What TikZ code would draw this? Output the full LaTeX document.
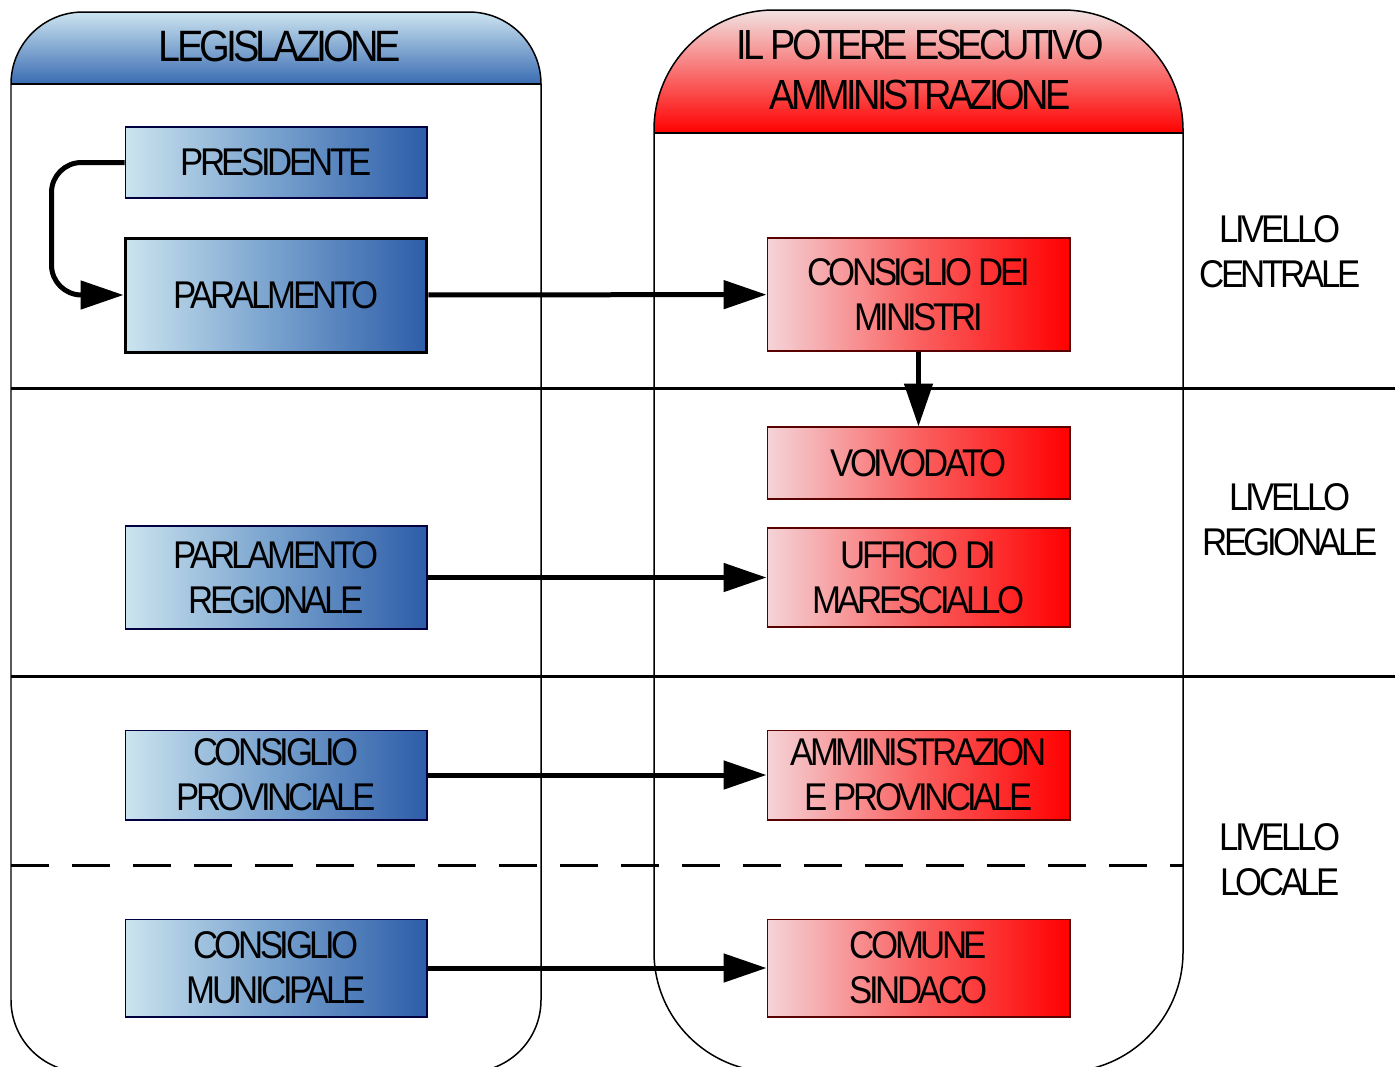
\documentclass[tikz,border=0pt]{standalone}
\usepackage{fontspec}
\newfontfamily\dfont[FakeStretch=0.9,LetterSpace=-9]{Liberation Sans}
\usetikzlibrary{arrows.meta}
\definecolor{bluelight}{RGB}{203,228,239}
\definecolor{bluemid}{RGB}{118,160,205}
\definecolor{bluedark}{RGB}{45,93,168}
\definecolor{redlight}{RGB}{244,212,216}
\definecolor{redmid}{RGB}{250,96,96}
\definecolor{reddark}{RGB}{255,0,0}
\definecolor{hbluetop}{RGB}{204,228,240}
\definecolor{hbluebot}{RGB}{58,108,178}
\definecolor{hredtop}{RGB}{242,226,226}
\definecolor{hredbot}{RGB}{255,0,0}

\begin{document}
\begin{tikzpicture}[x=0.02cm, y=-0.02cm, every node/.style={font=\dfont\fontsize{22}{25.5}\selectfont, align=center}, bluebox/.style={rectangle, draw=blue!25!black, line width=0.6pt, minimum width=6.04cm, left color=bluelight, right color=bluedark, middle color=bluemid}, redbox/.style={rectangle, draw=red!35!black, line width=0.6pt, minimum width=6.06cm, left color=redlight, right color=reddark, middle color=redmid}, arr/.style={line width=0.1cm, -{Triangle[length=0.86cm, width=0.56cm]}}, sep/.style={line width=0.06cm}, frame/.style={line width=0.03cm}]

        \useasboundingbox (0,0) rectangle (1395,1066);
        \clip (0,0) rectangle (1395,1066);

        \begin{scope}
        \clip[rounded corners=1.44cm] (11,12) rectangle (541,1072);
        \shade[top color=hbluetop, bottom color=hbluebot] (11,12) rectangle (541,84);
        \end{scope}
        \begin{scope}
        \clip[rounded corners=2.4cm] (654,10) rectangle (1183,1072);
        \shade[top color=hredtop, bottom color=hredbot] (654,10) rectangle (1183,133);
        \end{scope}
        \draw[frame, rounded corners=1.44cm] (11,12) rectangle (541,1072);
        \draw[frame, rounded corners=2.4cm] (654,10) rectangle (1183,1072);
        \draw[frame] (11,84) -- (541,84);
        \draw[frame] (654,133) -- (1183,133);

        \draw[sep] (11,388) -- (1395,388);
        \draw[sep] (11,676) -- (1395,676);
        \draw[sep, dash pattern=on 0.76cm off 0.46cm] (11,865) -- (1183,865);

        \node[font=\dfont\fontsize{25}{29}\selectfont] (h1) at (280,46) {LEGISLAZIONE};
        \node[font=\dfont\fontsize{24}{29}\selectfont] (h2) at (920,70) {IL POTERE ESECUTIVO\\AMMINISTRAZIONE};

        \node[bluebox, minimum height=1.42cm] (1) at (276,162.5) {PRESIDENTE};
        \node[bluebox, minimum height=2.28cm, line width=0.06cm, draw=black] (2) at (276,295) {PARALMENTO};
        \node[bluebox, minimum height=2.06cm] (3) at (276,577.5) {PARLAMENTO\\REGIONALE};
        \node[bluebox, minimum height=1.8cm] (4) at (276,775) {CONSIGLIO\\PROVINCIALE};
        \node[bluebox, minimum height=1.96cm] (5) at (276,968) {CONSIGLIO\\MUNICIPALE};

        \node[redbox, minimum height=2.26cm] (6) at (918.5,294.5) {CONSIGLIO DEI\\MINISTRI};
        \node[redbox, minimum height=1.44cm] (7) at (918.5,463) {VOIVODATO};
        \node[redbox, minimum height=1.98cm] (8) at (918.5,577.5) {UFFICIO DI\\MARESCIALLO};
        \node[redbox, minimum height=1.8cm] (9) at (918.5,775) {AMMINISTRAZION\\E PROVINCIALE};
        \node[redbox, minimum height=1.96cm] (10) at (918.5,968) {COMUNE\\SINDACO};

        \node (l1) at (1280,252) {LIVELLO\\CENTRALE};
        \node (l2) at (1290,520) {LIVELLO\\REGIONALE};
        \node (l3) at (1280,860) {LIVELLO\\LOCALE};

        \draw[arr, rounded corners=0.6cm] (1.west) -- ++(-73,0) |- (2.west);
        \draw[arr] (2) -- (6);
        \draw[arr] (6) -- (7);
        \draw[arr] (3) -- (8);
        \draw[arr] (4) -- (9);
        \draw[arr] (5) -- (10);

        \end{tikzpicture}
\end{document}
